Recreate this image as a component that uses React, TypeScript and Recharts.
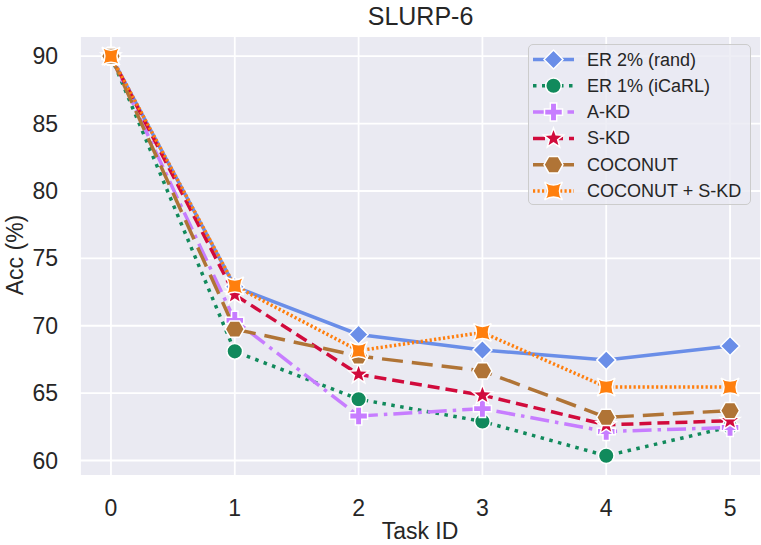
import React from 'react';
import { LineChart, Line, XAxis, YAxis, CartesianGrid } from 'recharts';

// Task IDs on the x axis
const taskIds = [0, 1, 2, 3, 4, 5];
const yTicks = [60, 65, 70, 75, 80, 85, 90];

// accuracy per task
const er2Rand = [90, 72.9, 69.35, 68.2, 67.45, 68.5];
const er1Icarl = [90, 68.1, 64.55, 62.9, 60.35, 62.5];
const aKd = [90, 70.4, 63.3, 63.85, 62.15, 62.45];
const sKd = [90, 72.3, 66.4, 64.85, 62.65, 62.95];
const coconut = [90, 69.75, 67.75, 66.65, 63.2, 63.7];
const coconutSkd = [90, 72.95, 68.15, 69.5, 65.45, 65.45];

const FONT = '"Liberation Sans", Arial, sans-serif';
const TEXT = '#262626';

type Shape = 'diamond' | 'circle' | 'plus' | 'star' | 'hexagon' | 'xstar';

const series = [
  { key: 'er2', name: 'ER 2% (rand)', values: er2Rand, color: '#6A8EE8', dash: undefined, shape: 'diamond' as Shape },
  { key: 'er1', name: 'ER 1% (iCaRL)', values: er1Icarl, color: '#118A5C', dash: '3.5 5.5', shape: 'circle' as Shape },
  { key: 'akd', name: 'A-KD', values: aKd, color: '#C77DFF', dash: '19 6 3.5 6', shape: 'plus' as Shape },
  { key: 'skd', name: 'S-KD', values: sKd, color: '#D10B3C', dash: '12 6', shape: 'star' as Shape },
  { key: 'coconut', name: 'COCONUT', values: coconut, color: '#B07436', dash: '21 9', shape: 'hexagon' as Shape },
  { key: 'coconutSkd', name: 'COCONUT + S-KD', values: coconutSkd, color: '#FF7F0E', dash: '2.2 2.3', shape: 'xstar' as Shape },
];

const rows = taskIds.map((t, i) => {
  const row: Record<string, number> = { task: t };
  series.forEach((s) => {
    row[s.key] = s.values[i];
  });
  return row;
});

const poly = (pts: [number, number][]) => pts.map((p) => p.join(',')).join(' ');

const Marker = ({ shape, cx, cy, color }: { shape: Shape; cx: number; cy: number; color: string }) => {
  const edge = { stroke: '#fff', strokeWidth: 1.5, fill: color };
  if (shape === 'diamond') {
    const r = 9.5;
    return <polygon points={poly([[cx, cy - r], [cx + r, cy], [cx, cy + r], [cx - r, cy]])} {...edge} />;
  }
  if (shape === 'circle') return <circle cx={cx} cy={cy} r={7.8} {...edge} />;
  if (shape === 'plus') {
    const a = 3.2, b = 9;
    return (
      <polygon
        points={poly([
          [cx - a, cy - b], [cx + a, cy - b], [cx + a, cy - a], [cx + b, cy - a], [cx + b, cy + a], [cx + a, cy + a],
          [cx + a, cy + b], [cx - a, cy + b], [cx - a, cy + a], [cx - b, cy + a], [cx - b, cy - a], [cx - a, cy - a],
        ])}
        {...edge}
      />
    );
  }
  if (shape === 'star') {
    const pts: [number, number][] = [];
    for (let i = 0; i < 10; i++) {
      const r = i % 2 === 0 ? 10.5 : 4.4;
      const ang = -Math.PI / 2 + (i * Math.PI) / 5;
      pts.push([cx + r * Math.cos(ang), cy + r * Math.sin(ang)]);
    }
    return <polygon points={poly(pts)} {...edge} />;
  }
  if (shape === 'hexagon') {
    const pts: [number, number][] = [];
    for (let i = 0; i < 6; i++) {
      const ang = (i * Math.PI) / 3;
      pts.push([cx + 9.5 * Math.cos(ang), cy + 9.5 * Math.sin(ang)]);
    }
    return <polygon points={poly(pts)} {...edge} />;
  }
  // concave four-pointed star
  const s = 9, c = 3;
  const d = `M${cx - s},${cy - s} Q${cx},${cy - c} ${cx + s},${cy - s} Q${cx + c},${cy} ${cx + s},${cy + s} Q${cx},${cy + c} ${cx - s},${cy + s} Q${cx - c},${cy} ${cx - s},${cy - s} Z`;
  return <path d={d} {...edge} />;
};

const XTick = ({ x, y, payload }: any) => (
  <text x={x} y={y + 30} textAnchor="middle" dominantBaseline="central" fill={TEXT} fontSize={23} fontFamily={FONT}>
    {payload.value}
  </text>
);

const YTick = ({ x, y, payload }: any) => (
  <text x={x - 20} y={y} textAnchor="end" dominantBaseline="central" fill={TEXT} fontSize={23} fontFamily={FONT}>
    {payload.value}
  </text>
);

const ChartLegend = () => (
  <div
    style={{
      position: 'absolute',
      left: 528,
      top: 44,
      width: 223,
      height: 161,
      boxSizing: 'border-box',
      border: '1.5px solid #CCCCCC',
      borderRadius: 5,
      background: 'rgba(234,234,242,0.8)',
    }}
  >
    <svg width={223} height={161} style={{ position: 'absolute', left: -1.5, top: -1.5 }}>
      {series.map((s, i) => {
        const y = 15.5 + i * 26.3;
        return (
          <g key={s.key}>
            <line x1={5} x2={46} y1={y} y2={y} stroke={s.color} strokeWidth={3.5} strokeDasharray={s.dash} />
            <Marker shape={s.shape} cx={25.5} cy={y} color={s.color} />
            <text x={59} y={y} dominantBaseline="central" fontSize={18} fontFamily={FONT} fill={TEXT}>
              {s.name}
            </text>
          </g>
        );
      })}
    </svg>
  </div>
);

const App: React.FC = () => {
  return (
    <div style={{ position: 'absolute', left: 0, top: 0, width: 761, height: 545, background: '#fff', fontFamily: FONT }}>
      <div
        style={{
          position: 'absolute',
          left: 80,
          width: 681,
          top: 2,
          textAlign: 'center',
          fontSize: 25,
          color: TEXT,
          lineHeight: '28px',
        }}
      >
        SLURP-6
      </div>
      <LineChart width={761} height={545} data={rows} margin={{ top: 36, right: 0, bottom: 0, left: 0 }}>
        <CartesianGrid fill="#EAEAF2" stroke="#FFFFFF" strokeWidth={1.8} />
        <XAxis
          dataKey="task"
          type="number"
          domain={[-0.25, 5.25]}
          ticks={taskIds}
          height={69}
          axisLine={false}
          tickLine={false}
          tickSize={0}
          tick={<XTick />}
          label={() => (
            <text x={420} y={539} textAnchor="middle" fontSize={23} fontFamily={FONT} fill={TEXT}>
              Task ID
            </text>
          )}
        />
        <YAxis
          type="number"
          domain={[58.85, 91.5]}
          ticks={yTicks}
          width={80}
          axisLine={false}
          tickLine={false}
          tickSize={0}
          allowDataOverflow
          tick={<YTick />}
          label={() => (
            <text
              x={15}
              y={255}
              transform="rotate(-90, 15, 255)"
              textAnchor="middle"
              dominantBaseline="central"
              fontSize={23}
              fontFamily={FONT}
              fill={TEXT}
            >
              Acc (%)
            </text>
          )}
        />
        {series.map((s) => (
          <Line
            key={s.key}
            dataKey={s.key}
            name={s.name}
            type="linear"
            stroke={s.color}
            strokeWidth={3.5}
            strokeDasharray={s.dash}
            isAnimationActive={false}
            activeDot={false}
            dot={(p: any) => <Marker key={`${s.key}-${p.index}`} shape={s.shape} cx={p.cx} cy={p.cy} color={s.color} />}
          />
        ))}
      </LineChart>
      <ChartLegend />
    </div>
  );
};

export default App;
